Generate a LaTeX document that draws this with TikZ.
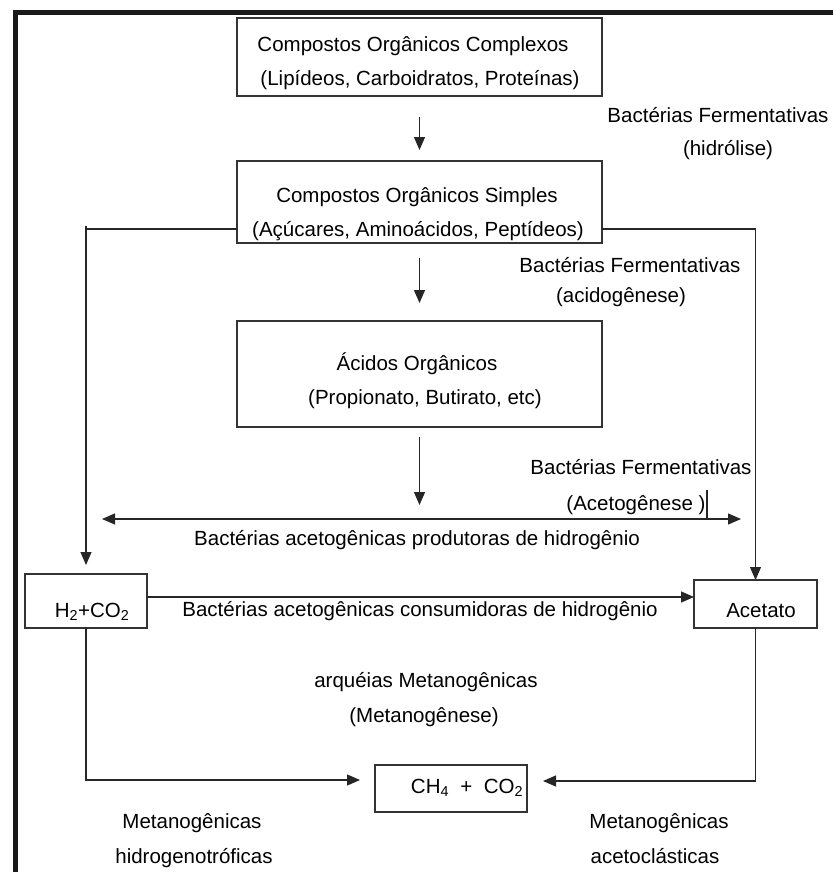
\documentclass[tikz,border=0pt]{standalone}
\usepackage{fontspec}
\setmainfont{Liberation Sans}
\usetikzlibrary{arrows.meta}
\begin{document}
\begin{tikzpicture}[x=1pt,y=-1pt,
  box/.style={draw=black!80, line width=1.2pt, inner sep=0pt, outer sep=0pt},
  txt/.style={anchor=base, inner sep=0pt, font=\fontsize{20.5}{24}\selectfont, text=black},
  conn/.style={draw=black!85, line width=1.2pt},
  arr/.style={conn, -{Triangle[length=13pt,width=11pt]}},
  arrtwo/.style={conn, {Triangle[length=13pt,width=11pt]}-{Triangle[length=13pt,width=11pt]}}]
\useasboundingbox (0,0) rectangle (833,872);
% frame bars
\fill[black!90] (13,10) rectangle (18,872);
\fill[black!90] (13,10) rectangle (833,15);
% boxes
\node[box, minimum width=365pt, minimum height=78pt] (b1) at (419.5,57) {};
\node[box, minimum width=365pt, minimum height=82pt] (b2) at (419.5,202) {};
\node[box, minimum width=365pt, minimum height=106pt] (b3) at (419.5,374) {};
\node[box, minimum width=122pt, minimum height=54pt] (h2) at (86,601) {};
\node[box, minimum width=123pt, minimum height=48pt] (ac) at (755.5,604) {};
\node[box, minimum width=152pt, minimum height=47pt] (ch) at (451,788.5) {};
% box texts
\node[txt] (t1a) at (413,52) {Compostos Orgânicos Complexos};
\node[txt] (t1b) at (420,86) {(Lipídeos, Carboidratos, Proteínas)};
\node[txt] (t2a) at (417,202) {Compostos Orgânicos Simples};
\node[txt] (t2b) at (418,236) {(Açúcares, Aminoácidos, Peptídeos)};
\node[txt] (t3a) at (417,370) {Ácidos Orgânicos};
\node[txt] (t3b) at (425,404) {(Propionato, Butirato, etc)};
\node[txt] (th2) at (92,617) {H\textsubscript{2}+CO\textsubscript{2}};
\node[txt] (tac) at (761,617) {Acetato};
\node[txt] (tch) at (467,793) {CH\textsubscript{4}\ \ +\ \ CO\textsubscript{2}};
% labels
\node[txt] (l1a) at (718,122) {Bactérias Fermentativas};
\node[txt] (l1b) at (728,155) {(hidrólise)};
\node[txt] (l2a) at (630,272) {Bactérias Fermentativas};
\node[txt] (l2b) at (621,302) {(acidogênese)};
\node[txt] (l3a) at (641,474) {Bactérias Fermentativas};
\node[txt] (l3b) at (636,510) {(Acetogênese )};
\node[txt] (l4) at (417,545) {Bactérias acetogênicas produtoras de hidrogênio};
\node[txt] (l5) at (420,616) {Bactérias acetogênicas consumidoras de hidrogênio};
\node[txt] (l6a) at (426,687) {arquéias Metanogênicas};
\node[txt] (l6b) at (424,722) {(Metanogênese)};
\node[txt] (l7a) at (192,828) {Metanogênicas};
\node[txt] (l7b) at (194,863) {hidrogenotróficas};
\node[txt] (l8a) at (659,828) {Metanogênicas};
\node[txt] (l8b) at (655,863) {acetoclásticas};
% coordinates
\coordinate (dl) at (102,519);
\coordinate (dr) at (741,519);
\coordinate (lc) at (86,229);
\coordinate (rc) at (755.5,229);
\coordinate (tk1) at (707,490);
\coordinate (tk2) at (707,518);
% connectors
\draw[arr, shorten <=21pt, shorten >=11pt] (b1.south) -- (b2.north);
\draw[arr, shorten <=15pt, shorten >=18pt] (b2.south) -- (b3.north);
\draw[arr, shorten <=10pt, shorten >=14pt] (b3.south) -- (b3.south |- dl);
\draw[arrtwo] (dl) -- (dr);
\draw[conn] (tk1) -- (tk2);
\draw[arr] ([yshift=14pt]b2.south west) -- (lc) -- ([yshift=9pt]lc |- h2.north);
\draw[conn] (lc) -- ++(0,-3);
\draw[arr] ([yshift=14pt]b2.south east) -- (rc) -- (ac.north);
\draw[arr] ([yshift=4pt]h2.east) -- ([yshift=4pt]h2.east -| ac.west);
\draw[arr] (h2.south) |- ([xshift=-15pt,yshift=8.5pt]ch.west);
\draw[arr] (ac.south) |- ([xshift=16pt,yshift=7.5pt]ch.east);
\end{tikzpicture}
\end{document}
